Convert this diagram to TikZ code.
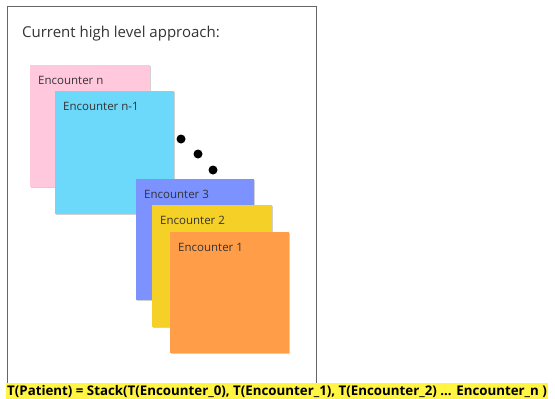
\documentclass[tikz,border=0pt]{standalone}
\usepackage{fontspec}
\setmainfont{Open Sans}
\usetikzlibrary{shadows}

\definecolor{notepink}{HTML}{FFC8DC}
\definecolor{notecyan}{HTML}{6CD8FA}
\definecolor{noteblue}{HTML}{7B92FF}
\definecolor{noteyellow}{HTML}{F5D128}
\definecolor{noteorange}{HTML}{FF9D48}
\definecolor{marker}{HTML}{FFF542}
\definecolor{framegray}{HTML}{666666}
\definecolor{notetext}{HTML}{333333}

\begin{document}
\begin{tikzpicture}[x=1pt,y=-1pt,
  sticky/.style={rectangle, inner sep=0pt, anchor=north west,
    drop shadow={shadow xshift=0.8pt, shadow yshift=-1.2pt, opacity=0.18, fill=black}},
  notelabel/.style={anchor=north west, inner sep=0pt, xshift=8pt, yshift=-11pt,
    font=\fontsize{11.5}{13}\selectfont, text=notetext},
  dot/.style={circle, fill=black, inner sep=0pt, minimum size=9pt}
]
\useasboundingbox (0,0) rectangle (555,399);

% page frame
\draw[framegray, line width=0.8pt] (7,6) rectangle (316,383);

% heading
\node[anchor=base west, inner sep=0pt, font=\fontsize{15}{18}\selectfont, text=notetext]
  (title) at (22,37) {Current high level approach:};

% stack of encounter notes, back to front
\node[sticky, fill=notepink, minimum width=120pt, minimum height=122pt,
  label={[notelabel]north west:Encounter n}] (encn) at (30,65) {};
\node[sticky, fill=notecyan, minimum width=119pt, minimum height=123pt,
  label={[notelabel]north west:Encounter n-1}] (encnm) at (55,91) {};

% ellipsis dots
\node[dot] (d1) at (181,139) {};
\node[dot] (d2) at (198,154) {};
\node[dot] (d3) at (213,170) {};

\node[sticky, fill=noteblue, minimum width=118pt, minimum height=121pt,
  label={[notelabel]north west:Encounter 3}] (enc3) at (136,179) {};
\node[sticky, fill=noteyellow, minimum width=120pt, minimum height=122pt,
  label={[notelabel]north west:Encounter 2}] (enc2) at (152,205) {};
\node[sticky, fill=noteorange, minimum width=119pt, minimum height=121pt,
  label={[notelabel]north west:Encounter 1}] (enc1) at (170,232) {};

% highlighted formula
\node[anchor=base west, fill=marker, inner xsep=1pt, inner ysep=0pt,
  text height=12pt, text depth=4pt, font=\fontsize{13.3}{15}\selectfont\bfseries]
  (formula) at (6,395) {T(Patient) = Stack(T(Encounter\_0), T(Encounter\_1), T(Encounter\_2) ... Encounter\_n )};
\end{tikzpicture}
\end{document}
